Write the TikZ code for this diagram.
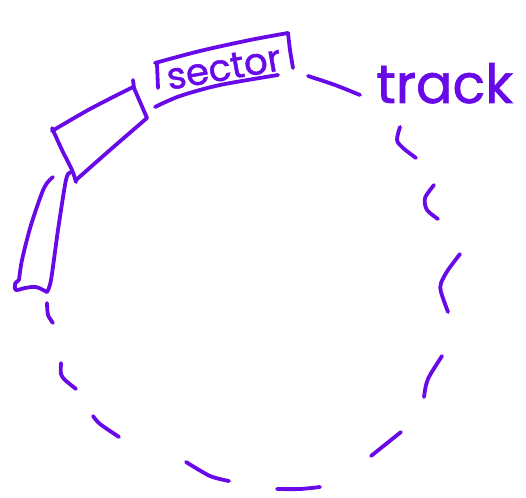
\documentclass[tikz,border=0pt]{standalone}
\usepackage{fontspec}
\newfontfamily\handfont[FakeBold=1.2]{Poppins}
\definecolor{ink}{RGB}{104,10,232}
\tikzset{
  pen/.style={draw=ink, line width=3.8pt, line cap=round, line join=round},
  label/.style={text=ink, inner sep=0pt, font=\handfont}
}
\begin{document}
\begin{tikzpicture}[x=1pt,y=-1pt]
\useasboundingbox (0,0) rectangle (526,497);
% sector box with text
\draw[pen] (157,64) -- (158,88);
\draw[pen] plot[smooth] coordinates {(155,63) (200,51) (250,40) (288,33)};
\draw[pen] plot[smooth] coordinates {(288,33) (290,50) (293,68)};
\draw[pen] plot[smooth] coordinates {(155,107) (180,96) (220,85) (278,75)};
\node[label, rotate=10, anchor=base, font=\handfont\fontsize{37}{37}\selectfont] (sector) at (226,80) {sector};
% second sector (quadrilateral)
\draw[pen] plot[smooth] coordinates {(52,128) (62,150) (72,170) (76,182)};
\draw[pen] plot[smooth] coordinates {(52,131) (90,109) (133,87)};
\draw[pen] (133,80) -- (134,88) -- (147,118);
\draw[pen] plot[smooth] coordinates {(76,180) (110,150) (147,118)};
% third sector
\draw[pen] plot[smooth] coordinates {(53,177) (44,188) (31,225) (22,260) (19,280)};
\draw[pen] plot[smooth] coordinates {(19,280) (15,284) (16,290) (25,288) (36,287) (47,292)};
\draw[pen] plot[smooth] coordinates {(47,292) (51,280) (58,230) (65,185) (68,174) (72,172)};
% dashed track circle
\draw[pen] plot[smooth] coordinates {(308,76) (335,85) (360,95)};
\draw[pen] plot[smooth] coordinates {(400,127) (397,140) (403,148) (416,158)};
\draw[pen] plot[smooth] coordinates {(434,185) (425,198) (427,210) (438,219)};
\draw[pen] plot[smooth] coordinates {(460,254) (448,270) (441,283) (441,292) (448,312)};
\draw[pen] plot[smooth] coordinates {(442,356) (430,375) (426,385) (424,397)};
\draw[pen] plot[smooth] coordinates {(401,432) (386,444) (371,456)};
\draw[pen] plot[smooth] coordinates {(320,487) (300,489) (277,489)};
\draw[pen] plot[smooth] coordinates {(229,481) (210,476) (186,462)};
\draw[pen] plot[smooth] coordinates {(119,437) (100,424) (93,416)};
\draw[pen] plot[smooth] coordinates {(76,389) (65,380) (61,374) (61,363)};
\draw[pen] plot[smooth] coordinates {(53,323) (48,315) (47,303)};
% track label
\node[label, anchor=base west, font=\handfont\fontsize{54}{54}\selectfont] (track) at (376,103) {track};
\end{tikzpicture}
\end{document}
